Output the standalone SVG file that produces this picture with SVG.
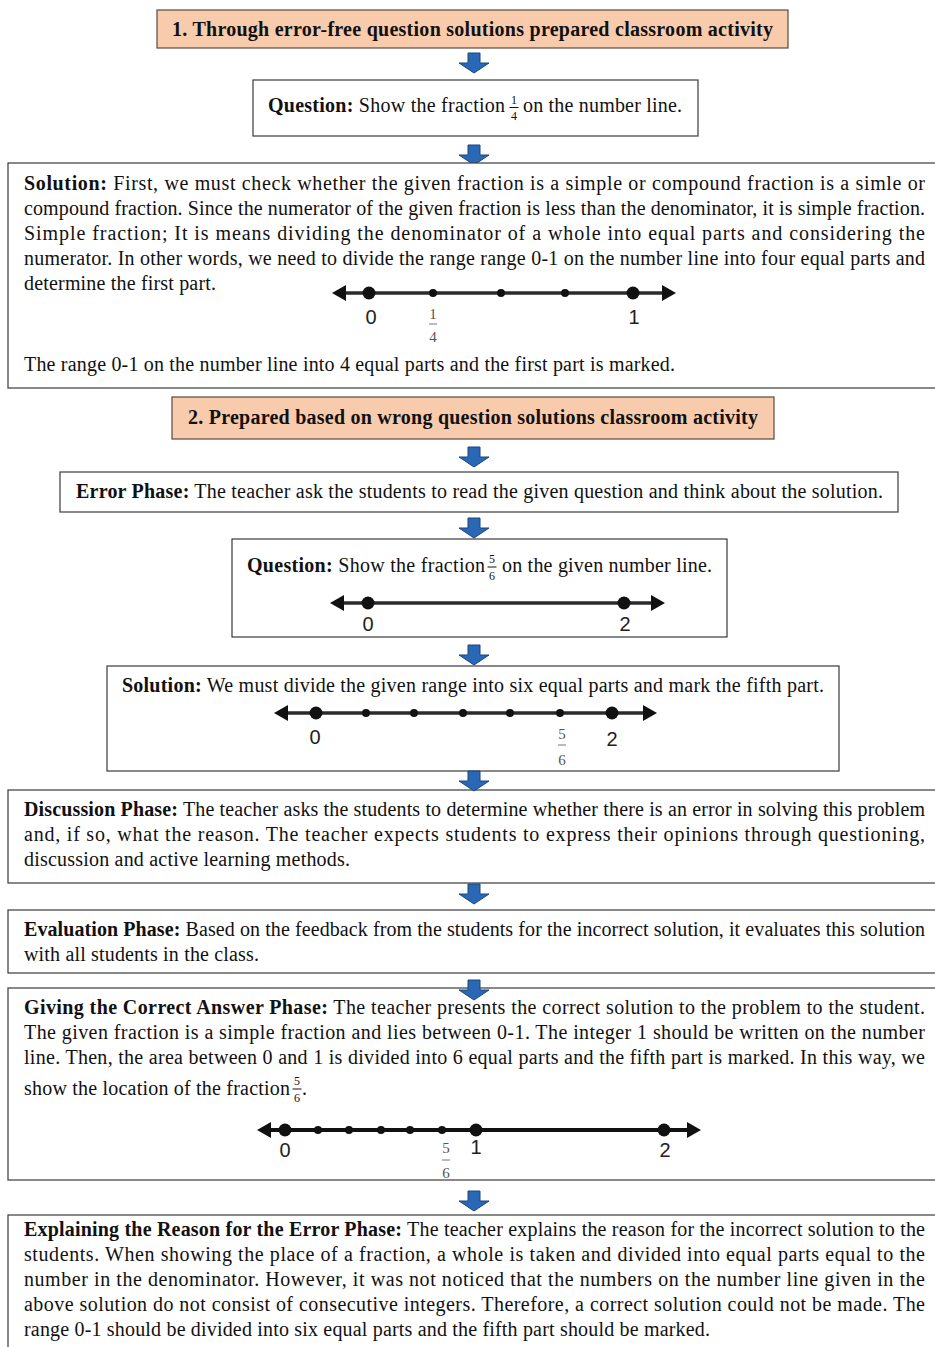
<svg xmlns="http://www.w3.org/2000/svg" width="935" height="1347" viewBox="0 0 935 1347">
<style>
.box{fill:#fff;stroke:#3a3a3a;stroke-width:1.2}
.ttl{fill:#f8cbad;stroke:#5a4a40;stroke-width:1.2}
.t{font-family:"Liberation Serif","Times New Roman",serif;font-size:20px;fill:#111}
.b{font-weight:bold}
.tb{font-family:"Liberation Serif","Times New Roman",serif;font-size:20px;font-weight:bold;fill:#111}
.fr{font-family:"Liberation Serif","Times New Roman",serif;font-size:12px;fill:#111;text-anchor:middle}
.nl{stroke:#2a2a2a;stroke-width:3.5;fill:none}
.dot{fill:#111}
.ah{fill:#111}
.num{font-family:"Liberation Sans",Arial,sans-serif;font-size:20px;fill:#222;text-anchor:middle}
.nf{font-family:"Liberation Serif","Times New Roman",serif;font-size:15px;fill:#555;text-anchor:middle}
.bar{stroke:#777;stroke-width:1}
.fbar{stroke:#111;stroke-width:1}
.arrow{fill:#2a67b5;stroke:#1c4580;stroke-width:1}
</style>
<defs>
<path id="down" d="M-6,0 H6 V10 H15 L0,20 L-15,10 H-6 Z"/>
</defs>

<g id="connectors">
<use href="#down" class="arrow" x="474" y="53"/>
<use href="#down" class="arrow" x="474" y="145"/>
<use href="#down" class="arrow" x="474" y="447"/>
<use href="#down" class="arrow" x="474" y="518"/>
<use href="#down" class="arrow" x="474" y="645"/>
</g>

<g id="title1">
<rect class="ttl" x="157" y="10" width="631" height="38"/>
<text class="tb" x="172" y="36" textLength="601" lengthAdjust="spacing">1. Through error-free question solutions prepared classroom activity</text>
</g>

<g id="question1">
<rect class="box" x="253" y="80" width="445" height="56"/>
<text class="t" x="268" y="112" textLength="237" lengthAdjust="spacing"><tspan class="b">Question:</tspan> Show the fraction</text>
<text class="fr" x="514" y="104">1</text>
<line class="fbar" x1="509.5" y1="107.5" x2="518.5" y2="107.5"/>
<text class="fr" x="514" y="120">4</text>
<text class="t" x="523" y="112" textLength="159" lengthAdjust="spacing">on the number line.</text>
</g>

<g id="solution1">
<rect class="box" x="8" y="163" width="935" height="225"/>
<text class="t" x="24" y="190" textLength="901" lengthAdjust="spacing"><tspan class="b">Solution:</tspan> First, we must check whether the given fraction is a simple or compound fraction is a simle or</text>
<text class="t" x="24" y="215" textLength="901" lengthAdjust="spacing">compound fraction. Since the numerator of the given fraction is less than the denominator, it is simple fraction.</text>
<text class="t" x="24" y="240" textLength="901" lengthAdjust="spacing">Simple fraction; It is means dividing the denominator of a whole into equal parts and considering the</text>
<text class="t" x="24" y="265" textLength="901" lengthAdjust="spacing">numerator. In other words, we need to divide the range range 0-1 on the number line into four equal parts and</text>
<text class="t" x="24" y="290" textLength="192" lengthAdjust="spacing">determine the first part.</text>
<line class="nl" x1="344" y1="293" x2="664" y2="293"/>
<path class="ah" d="M332,293 L346,285 L346,301 Z"/>
<path class="ah" d="M676,293 L662,285 L662,301 Z"/>
<circle class="dot" cx="369" cy="293" r="6.5"/>
<circle class="dot" cx="433" cy="293" r="4"/>
<circle class="dot" cx="501" cy="293" r="4"/>
<circle class="dot" cx="565" cy="293" r="4"/>
<circle class="dot" cx="633" cy="293" r="6.5"/>
<text class="num" x="371" y="324">0</text>
<text class="num" x="634" y="324">1</text>
<text class="nf" x="433" y="319">1</text>
<line class="bar" x1="429" y1="324" x2="437" y2="324"/>
<text class="nf" x="433" y="342">4</text>
<text class="t" x="24" y="371" textLength="651" lengthAdjust="spacing">The range 0-1 on the number line into 4 equal parts and the first part is marked.</text>
</g>

<g id="title2">
<rect class="ttl" x="172" y="397" width="602" height="42"/>
<text class="tb" x="188" y="424" textLength="570" lengthAdjust="spacing">2. Prepared based on wrong question solutions classroom activity</text>
</g>

<g id="error-phase">
<rect class="box" x="60" y="472" width="838" height="40"/>
<text class="t" x="76" y="498" textLength="807" lengthAdjust="spacing"><tspan class="b">Error Phase:</tspan> The teacher ask the students to read the given question and think about the solution.</text>
</g>

<g id="question2">
<rect class="box" x="232" y="539" width="495" height="98"/>
<text class="t" x="247" y="572" textLength="238" lengthAdjust="spacing"><tspan class="b">Question:</tspan> Show the fraction</text>
<text class="fr" x="492" y="563">5</text>
<line class="fbar" x1="487.5" y1="567" x2="496.5" y2="567"/>
<text class="fr" x="492" y="580">6</text>
<text class="t" x="502" y="572" textLength="210" lengthAdjust="spacing">on the given number line.</text>
<line class="nl" x1="342" y1="603" x2="652" y2="603"/>
<path class="ah" d="M330,603 L344,595 L344,611 Z"/>
<path class="ah" d="M665,603 L651,595 L651,611 Z"/>
<circle class="dot" cx="368" cy="603" r="6.5"/>
<circle class="dot" cx="624" cy="603" r="6.5"/>
<text class="num" x="368" y="631">0</text>
<text class="num" x="625" y="631">2</text>
</g>

<g id="solution2">
<rect class="box" x="107" y="666" width="732" height="105"/>
<text class="t" x="122" y="692" textLength="702" lengthAdjust="spacing"><tspan class="b">Solution:</tspan> We must divide the given range into six equal parts and mark the fifth part.</text>
<line class="nl" x1="286" y1="713" x2="646" y2="713"/>
<path class="ah" d="M274,713 L288,705 L288,721 Z"/>
<path class="ah" d="M657,713 L643,705 L643,721 Z"/>
<circle class="dot" cx="316" cy="713" r="6.5"/>
<circle class="dot" cx="366" cy="713" r="4"/>
<circle class="dot" cx="414" cy="713" r="4"/>
<circle class="dot" cx="463" cy="713" r="4"/>
<circle class="dot" cx="510" cy="713" r="4"/>
<circle class="dot" cx="560" cy="713" r="4"/>
<circle class="dot" cx="612" cy="713" r="6.5"/>
<text class="num" x="315" y="744">0</text>
<text class="num" x="612" y="746">2</text>
<text class="nf" x="562" y="739">5</text>
<line class="bar" x1="558" y1="745" x2="566" y2="745"/>
<text class="nf" x="562" y="765">6</text>
</g>

<g id="discussion">
<rect class="box" x="8" y="790" width="935" height="93"/>
<text class="t" x="24" y="816" textLength="901" lengthAdjust="spacing"><tspan class="b">Discussion Phase:</tspan> The teacher asks the students to determine whether there is an error in solving this problem</text>
<text class="t" x="24" y="841" textLength="901" lengthAdjust="spacing">and, if so, what the reason. The teacher expects students to express their opinions through questioning,</text>
<text class="t" x="24" y="866" textLength="326" lengthAdjust="spacing">discussion and active learning methods.</text>
</g>

<g id="evaluation">
<rect class="box" x="8" y="910" width="935" height="63"/>
<text class="t" x="24" y="936" textLength="901" lengthAdjust="spacing"><tspan class="b">Evaluation Phase:</tspan> Based on the feedback from the students for the incorrect solution, it evaluates this solution</text>
<text class="t" x="24" y="961" textLength="235" lengthAdjust="spacing">with all students in the class.</text>
</g>

<g id="correct-answer">
<rect class="box" x="8" y="988" width="935" height="192"/>
<text class="t" x="24" y="1014" textLength="901" lengthAdjust="spacing"><tspan class="b">Giving the Correct Answer Phase:</tspan> The teacher presents the correct solution to the problem to the student.</text>
<text class="t" x="24" y="1039" textLength="901" lengthAdjust="spacing">The given fraction is a simple fraction and lies between 0-1. The integer 1 should be written on the number</text>
<text class="t" x="24" y="1064" textLength="901" lengthAdjust="spacing">line. Then, the area between 0 and 1 is divided into 6 equal parts and the fifth part is marked. In this way, we</text>
<text class="t" x="24" y="1095" textLength="266" lengthAdjust="spacing">show the location of the fraction</text>
<text class="fr" x="297" y="1085">5</text>
<line class="fbar" x1="292.5" y1="1089" x2="301.5" y2="1089"/>
<text class="fr" x="297" y="1102">6</text>
<text class="t" x="302" y="1095">.</text>
<line class="nl" x1="268" y1="1130" x2="690" y2="1130" style="stroke:#111;stroke-width:4"/>
<path class="ah" d="M257,1130 L271,1122 L271,1138 Z"/>
<path class="ah" d="M701,1130 L687,1122 L687,1138 Z"/>
<circle class="dot" cx="285" cy="1130" r="6.5"/>
<circle class="dot" cx="318" cy="1130" r="4"/>
<circle class="dot" cx="349" cy="1130" r="4"/>
<circle class="dot" cx="381" cy="1130" r="4"/>
<circle class="dot" cx="410" cy="1130" r="4"/>
<circle class="dot" cx="442" cy="1130" r="4"/>
<circle class="dot" cx="476" cy="1130" r="6.5"/>
<circle class="dot" cx="664" cy="1130" r="6.5"/>
<text class="num" x="285" y="1157">0</text>
<text class="num" x="476" y="1154">1</text>
<text class="num" x="665" y="1157">2</text>
<text class="nf" x="446" y="1153">5</text>
<line class="bar" x1="442" y1="1160" x2="450" y2="1160"/>
<text class="nf" x="446" y="1178">6</text>
</g>

<g id="explaining">
<rect class="box" x="8" y="1215" width="935" height="140"/>
<text class="t" x="24" y="1236" textLength="901" lengthAdjust="spacing"><tspan class="b">Explaining the Reason for the Error Phase:</tspan> The teacher explains the reason for the incorrect solution to the</text>
<text class="t" x="24" y="1261" textLength="901" lengthAdjust="spacing">students. When showing the place of a fraction, a whole is taken and divided into equal parts equal to the</text>
<text class="t" x="24" y="1286" textLength="901" lengthAdjust="spacing">number in the denominator. However, it was not noticed that the numbers on the number line given in the</text>
<text class="t" x="24" y="1311" textLength="901" lengthAdjust="spacing">above solution do not consist of consecutive integers. Therefore, a correct solution could not be made. The</text>
<text class="t" x="24" y="1336" textLength="686" lengthAdjust="spacing">range 0-1 should be divided into six equal parts and the fifth part should be marked.</text>
</g>

<g id="connectors-over">
<use href="#down" class="arrow" x="474" y="771"/>
<use href="#down" class="arrow" x="474" y="884"/>
<use href="#down" class="arrow" x="474" y="980"/>
<use href="#down" class="arrow" x="474" y="1191"/>
</g>
</svg>
